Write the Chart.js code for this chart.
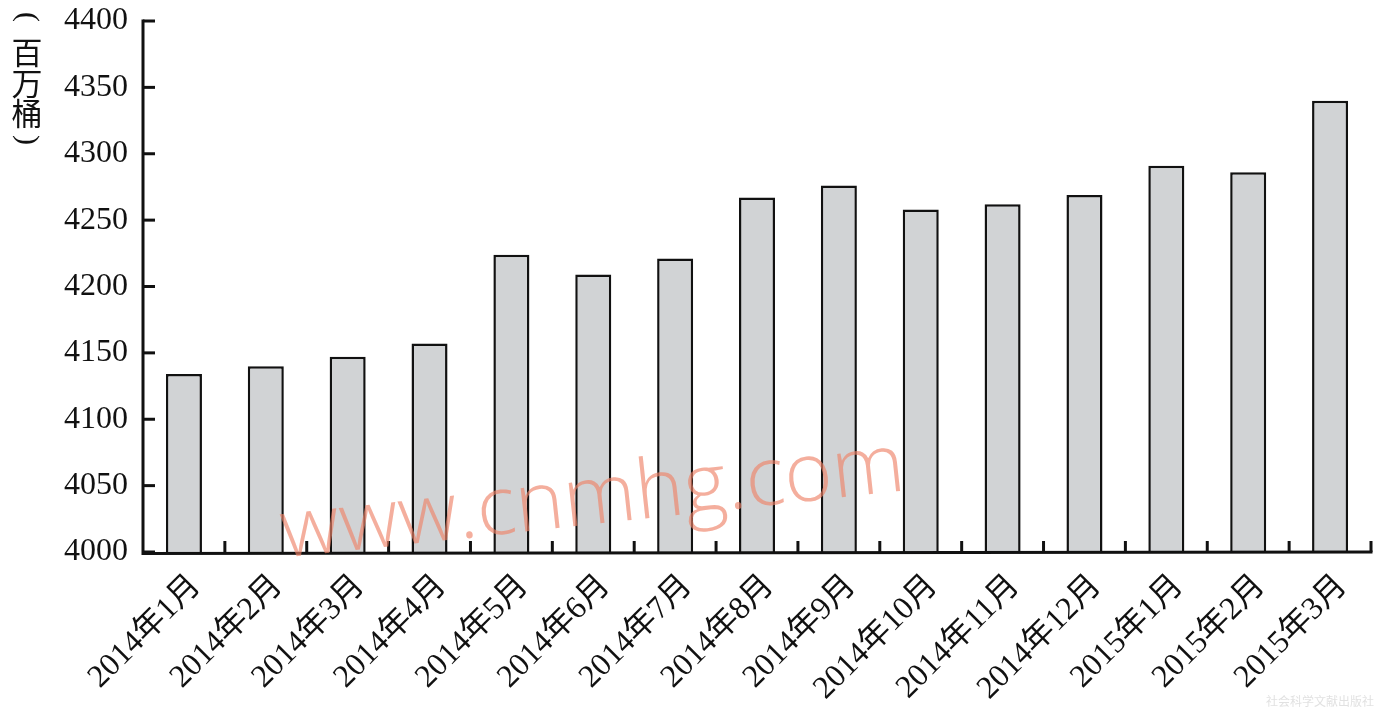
<!DOCTYPE html>
<html>
<head>
<meta charset="utf-8">
<script src="https://cdn.jsdelivr.net/npm/chart.js@4/dist/chart.umd.min.js"></script>
<style>
html,body{margin:0;padding:0;background:#fff;}
#wrap{width:1379px;height:710px;position:relative;}
</style>
</head>
<body>
<div id="wrap"><canvas id="c" width="1379" height="710"></canvas></div>
<script>
const categories = ["2014年1月","2014年2月","2014年3月","2014年4月","2014年5月","2014年6月","2014年7月","2014年8月","2014年9月","2014年10月","2014年11月","2014年12月","2015年1月","2015年2月","2015年3月"];
const values = [4134,4140,4147,4157,4224,4209,4221,4267,4276,4258,4262,4269,4291,4286,4340];
const yMin = 4000, yMax = 4400, yStep = 50;
const yTitleChars = ["(","百","万","桶",")"];
const watermark = "www.cnmhg.com";
const publisher = "社会科学文献出版社";

const SERIF = '"Liberation Serif","Noto Sans CJK SC",serif';
const CJK = '"Noto Sans CJK SC","Liberation Serif",serif';

const axesPlugin = {
  id: 'axesPlugin',
  afterDatasetsDraw(chart) {
    const ctx = chart.ctx, ca = chart.chartArea;
    const x = chart.scales.x, y = chart.scales.y;
    ctx.save();
    ctx.strokeStyle = '#111';
    ctx.lineWidth = 3;
    ctx.lineCap = 'butt';
    ctx.beginPath();
    ctx.moveTo(ca.left, ca.top - 1.5);
    ctx.lineTo(ca.left, ca.bottom + 1.5);
    ctx.lineTo(ca.right + 1.5, ca.bottom);
    ctx.stroke();
    y.ticks.forEach(t => {
      const py = y.getPixelForValue(t.value);
      ctx.beginPath();
      ctx.moveTo(ca.left, py);
      ctx.lineTo(ca.left + 12, py);
      ctx.stroke();
    });
    for (let i = 1; i <= categories.length; i++) {
      const px = i === categories.length ? ca.right : (x.getPixelForValue(i - 1) + x.getPixelForValue(i)) / 2;
      ctx.beginPath();
      ctx.moveTo(px, ca.bottom);
      ctx.lineTo(px, ca.bottom - 11);
      ctx.stroke();
    }
    ctx.fillStyle = '#111';
    ctx.font = '32px ' + SERIF;
    ctx.textAlign = 'right';
    ctx.textBaseline = 'middle';
    categories.forEach((lab, i) => {
      const px = x.getPixelForValue(i);
      ctx.save();
      ctx.translate(px + 12, ca.bottom + 29);
      ctx.rotate(-Math.PI / 4);
      ctx.fillText(lab, 0, 0);
      ctx.restore();
    });
    ctx.restore();
  },
  afterDraw(chart) {
    const ctx = chart.ctx;
    ctx.save();
    ctx.fillStyle = '#111';
    ctx.textAlign = 'center';
    ctx.textBaseline = 'middle';
    const ys = [17, 52, 83, 113, 140];
    yTitleChars.forEach((ch, i) => {
      if (i === 0 || i === yTitleChars.length - 1) {
        ctx.save();
        ctx.font = '30px "Liberation Serif",serif';
        ctx.translate(27, ys[i]);
        ctx.rotate(Math.PI / 2);
        ctx.fillText(ch, 0, 0);
        ctx.restore();
      } else {
        ctx.font = '31px ' + CJK;
        ctx.fillText(ch, 27, ys[i]);
      }
    });
    ctx.save();
    ctx.translate(595, 524);
    ctx.rotate(-6.2 * Math.PI / 180);
    ctx.fillStyle = 'rgba(238,130,105,0.65)';
    ctx.font = '300 82px "Open Sans","DejaVu Sans",sans-serif';
    ctx.textAlign = 'center';
    ctx.textBaseline = 'alphabetic';
    ctx.fillText(watermark, 0, 0);
    ctx.restore();
    ctx.fillStyle = 'rgba(205,205,205,0.6)';
    ctx.font = '12px ' + CJK;
    ctx.textAlign = 'right';
    ctx.textBaseline = 'middle';
    ctx.fillText(publisher, 1374, 701);
    ctx.restore();
  }
};

new Chart(document.getElementById('c'), {
  type: 'bar',
  data: {
    labels: categories,
    datasets: [{
      data: values,
      backgroundColor: '#d1d3d5',
      borderColor: '#111',
      borderWidth: 2.5,
      borderSkipped: 'bottom',
      categoryPercentage: 1.0,
      barPercentage: 0.44
    }]
  },
  options: {
    responsive: false,
    animation: false,
    layout: { padding: { top: 21, right: 8, left: 0, bottom: 0 } },
    plugins: { legend: { display: false }, tooltip: { enabled: false } },
    scales: {
      x: {
        grid: { display: false, drawTicks: false },
        border: { display: false },
        ticks: { display: false },
        afterFit(s) { s.height = 158; s.paddingLeft = 0; s.paddingRight = 0; }
      },
      y: {
        min: yMin, max: yMax,
        grid: { display: false, drawTicks: false },
        border: { display: false },
        ticks: {
          stepSize: yStep,
          color: '#111',
          font: { family: SERIF, size: 32 },
          padding: 15,
          callback: v => String(v)
        },
        afterFit(s) { s.width = 143; s.paddingTop = 0; s.paddingBottom = 0; }
      }
    }
  },
  plugins: [axesPlugin]
});
</script>
</body>
</html>
